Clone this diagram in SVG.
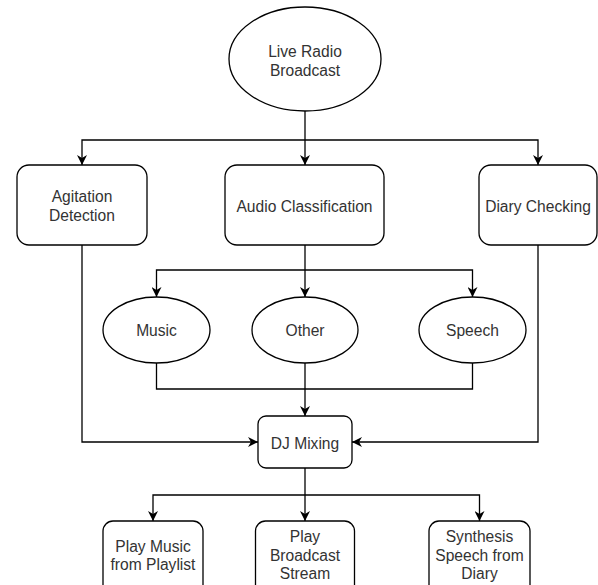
<svg xmlns="http://www.w3.org/2000/svg" width="598" height="585" viewBox="0 0 598 585">
<style>
.n{fill:#fff;stroke:#000;stroke-width:1.3}
.t{font-family:"Liberation Sans",Arial,Helvetica,sans-serif;font-size:15.6px;fill:#333;text-anchor:middle}
.e{fill:none;stroke:#000;stroke-width:1.3}
</style>
<defs>
<marker id="a" markerUnits="userSpaceOnUse" markerWidth="10" markerHeight="10" viewBox="0 0 10 10" refX="10" refY="5" orient="auto">
<path d="M0,0 L10,5 L0,10 L3,5 Z" fill="#000"/>
</marker>
</defs>
<rect width="598" height="585" fill="#fff"/>
<g id="connectors">
<path class="e" d="M305,111 V165" marker-end="url(#a)"/>
<path class="e" d="M305,140 H82 V165" marker-end="url(#a)"/>
<path class="e" d="M305,140 H538 V165" marker-end="url(#a)"/>
<path class="e" d="M305,245 V297" marker-end="url(#a)"/>
<path class="e" d="M305,270 H156.5 V297" marker-end="url(#a)"/>
<path class="e" d="M305,270 H472.5 V297" marker-end="url(#a)"/>
<path class="e" d="M156.5,363 V389 H305"/>
<path class="e" d="M472.5,363 V389 H305"/>
<path class="e" d="M305,363 V416" marker-end="url(#a)"/>
<path class="e" d="M82,245 V442 H258" marker-end="url(#a)"/>
<path class="e" d="M538,245 V442 H352" marker-end="url(#a)"/>
<path class="e" d="M305,468 V521" marker-end="url(#a)"/>
<path class="e" d="M305,495 H153 V521" marker-end="url(#a)"/>
<path class="e" d="M305,495 H479.5 V521" marker-end="url(#a)"/>
</g>
<g id="live-radio">
<ellipse class="n" cx="305" cy="59" rx="76" ry="52"/>
<text class="t" x="305" y="57.3">Live Radio</text>
<text class="t" x="305" y="75.6">Broadcast</text>
</g>
<g id="agitation">
<rect class="n" x="17" y="165" width="130" height="80" rx="12"/>
<text class="t" x="82" y="202.3">Agitation</text>
<text class="t" x="82" y="220.6">Detection</text>
</g>
<g id="audio-classification">
<rect class="n" x="225" y="165" width="159" height="80" rx="12"/>
<text class="t" x="304.5" y="211.6">Audio Classification</text>
</g>
<g id="diary-checking">
<rect class="n" x="479" y="165" width="118" height="80" rx="12"/>
<text class="t" x="538" y="211.6">Diary Checking</text>
</g>
<g id="music">
<ellipse class="n" cx="156.5" cy="330" rx="53.5" ry="33"/>
<text class="t" x="156.5" y="336.3">Music</text>
</g>
<g id="other">
<ellipse class="n" cx="305" cy="330" rx="53" ry="33"/>
<text class="t" x="305" y="336.3">Other</text>
</g>
<g id="speech">
<ellipse class="n" cx="472.5" cy="330" rx="53.5" ry="33"/>
<text class="t" x="472.5" y="336.3">Speech</text>
</g>
<g id="dj-mixing">
<rect class="n" x="258" y="416" width="94" height="52" rx="8"/>
<text class="t" x="305" y="448.6">DJ Mixing</text>
</g>
<g id="play-music">
<rect class="n" x="103" y="521" width="100" height="80" rx="10"/>
<text class="t" x="153" y="551.6">Play Music</text>
<text class="t" x="153" y="569.9">from Playlist</text>
</g>
<g id="play-broadcast">
<rect class="n" x="255.5" y="521" width="99" height="80" rx="10"/>
<text class="t" x="305" y="542.3">Play</text>
<text class="t" x="305" y="560.6">Broadcast</text>
<text class="t" x="305" y="578.9">Stream</text>
</g>
<g id="synthesis">
<rect class="n" x="429" y="521" width="101" height="80" rx="10"/>
<text class="t" x="479.5" y="542.3">Synthesis</text>
<text class="t" x="479.5" y="560.6">Speech from</text>
<text class="t" x="479.5" y="578.9">Diary</text>
</g>
</svg>
